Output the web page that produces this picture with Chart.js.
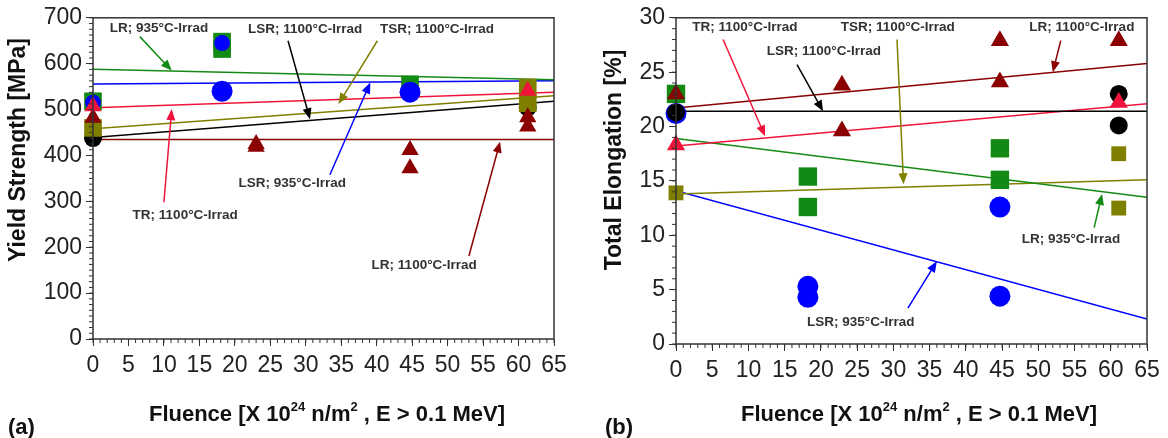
<!DOCTYPE html>
<html>
<head>
<meta charset="utf-8">
<script src="https://cdn.jsdelivr.net/npm/chart.js@4.4.0/dist/chart.umd.min.js"></script>
<style>
body { margin: 0; background: #fff; }
#wrap { position: relative; width: 1168px; height: 438px; }
#wrap canvas { position: absolute; top: 0; }
#c1 { left: 0; }
#c2 { left: 584px; }
</style>
</head>
<body>
<div id="wrap">
  <canvas id="c1" width="584" height="438"></canvas>
  <canvas id="c2" width="584" height="438"></canvas>
</div>
<script>
// ends of the fitted lines (fluence)
var lineX = [0, 65];
var xTicks = [0, 65, 5];

// (a) yield strength [MPa]
var ysTicks = [0, 700, 100];
var ysLR935X = [0, 18.2, 18.2, 44.7];
var ysLR935 = [518, 648, 632, 555];
var ysLSR935X = [0, 18.2, 18.2, 44.7];
var ysLSR935 = [515, 645, 540, 538];
var ysTR1100X = [0, 61.3];
var ysTR1100 = [507, 541];
var ysLR1100X = [0, 23, 23, 44.7, 44.7, 61.3, 61.3];
var ysLR1100 = [482, 425, 419, 412, 372, 483, 463];
var ysTSR1100X = [0, 61.3, 61.3];
var ysTSR1100 = [460, 548, 514];
var ysLSR1100X = [0, 61.3];
var ysLSR1100 = [438, 505];
// fitted lines at x = 0 and x = 65
var ysFitLR935 = [588, 565];
var ysFitLSR935 = [556, 563];
var ysFitTR1100 = [504, 538];
var ysFitTSR1100 = [458, 530];
var ysFitLSR1100 = [439, 518];
var ysFitLR1100 = [435, 435];

// (b) total elongation [%]
var elTicks = [0, 30, 5];
var elLR935X = [0, 18.2, 18.2, 44.7, 44.7];
var elLR935 = [23.0, 15.4, 12.6, 18.0, 15.1];
var elLSR935X = [0, 18.2, 18.2, 44.7, 44.7];
var elLSR935 = [21.2, 5.3, 4.3, 12.6, 4.4];
var elTR1100X = [0, 61.1];
var elTR1100 = [18.3, 22.2];
var elLR1100X = [0, 22.9, 22.9, 44.7, 44.7, 61.1];
var elLR1100 = [23.0, 23.8, 19.6, 27.9, 24.1, 27.9];
var elTSR1100X = [0, 61.1, 61.1];
var elTSR1100 = [13.9, 17.5, 12.5];
var elLSR1100X = [0, 61.1, 61.1];
var elLSR1100 = [21.3, 23.0, 20.1];
var elFitLR1100 = [21.7, 25.8];
var elFitLSR1100 = [21.4, 21.4];
var elFitTR1100 = [18.2, 22.1];
var elFitLR935 = [18.9, 13.5];
var elFitTSR1100 = [13.8, 15.1];
var elFitLSR935 = [14.1, 2.3];

var GREEN = '#138a13', BLUE = '#0000ff', RED = '#f0143c', DRED = '#8b0000', OLIVE = '#808000', BLACK = '#000000';
var FONT = "'Liberation Sans', Arial, sans-serif";

function pts(xs, ys) {
    return xs.map(function (x, i) { return { x: x, y: ys[i] }; });
}

function scatterSet(xs, ys, color, style, radius, order) {
    return {
        type: 'scatter', data: pts(xs, ys), backgroundColor: color, borderColor: color,
        borderWidth: 0, pointStyle: style, pointRadius: radius, clip: false, order: order
    };
}

function fitSet(ys, color) {
    return {
        type: 'line', data: pts(lineX, ys), borderColor: color, borderWidth: 1.5,
        pointRadius: 0, fill: false, order: 20
    };
}

// labels with arrows: text position, arrow tail, arrow head (data values)
var notesA = [
    { t: 'LR; 935\u00b0C-Irrad', tx: 9.3, ty: 678, a: [6.6, 659, 11.1, 585], c: GREEN },
    { t: 'LSR; 1100\u00b0C-Irrad', tx: 29.9, ty: 676, a: [27.5, 650, 30.6, 479], c: BLACK },
    { t: 'TSR; 1100\u00b0C-Irrad', tx: 48.5, ty: 676, a: [40.1, 650, 34.6, 512], c: OLIVE },
    { t: 'LSR; 935\u00b0C-Irrad', tx: 28.1, ty: 339, a: [33.4, 358, 39.1, 559], c: BLUE },
    { t: 'TR; 1100\u00b0C-Irrad', tx: 13.0, ty: 270, a: [10.0, 298, 11.1, 501], c: RED },
    { t: 'LR; 1100\u00b0C-Irrad', tx: 46.7, ty: 160, a: [53.0, 181, 57.4, 430], c: DRED }
];
var notesB = [
    { t: 'TR; 1100\u00b0C-Irrad', tx: 9.5, ty: 29.1, a: [6.5, 28.0, 12.3, 19.1], c: RED },
    { t: 'TSR; 1100\u00b0C-Irrad', tx: 30.6, ty: 29.1, a: [30.5, 28.0, 31.4, 14.7], c: OLIVE },
    { t: 'LR; 1100\u00b0C-Irrad', tx: 56.0, ty: 29.1, a: [53.1, 27.9, 52.0, 25.0], c: DRED },
    { t: 'LSR; 1100\u00b0C-Irrad', tx: 20.4, ty: 26.9, a: [16.7, 25.7, 20.3, 21.4], c: BLACK },
    { t: 'LR; 935\u00b0C-Irrad', tx: 54.5, ty: 9.6, a: [57.7, 10.7, 58.8, 13.8], c: GREEN },
    { t: 'LSR; 935\u00b0C-Irrad', tx: 25.5, ty: 2.0, a: [32.0, 3.3, 36.0, 7.6], c: BLUE }
];

function arrow(ctx, x0, y0, x1, y1, color) {
    var ang = Math.atan2(y1 - y0, x1 - x0), len = 11, hw = 4.5;
    ctx.strokeStyle = color; ctx.fillStyle = color; ctx.lineWidth = 1.5;
    ctx.beginPath();
    ctx.moveTo(x0, y0);
    ctx.lineTo(x1 - Math.cos(ang) * len * 0.8, y1 - Math.sin(ang) * len * 0.8);
    ctx.stroke();
    ctx.beginPath();
    ctx.moveTo(x1, y1);
    ctx.lineTo(x1 - Math.cos(ang) * len + Math.sin(ang) * hw, y1 - Math.sin(ang) * len - Math.cos(ang) * hw);
    ctx.lineTo(x1 - Math.cos(ang) * len - Math.sin(ang) * hw, y1 - Math.sin(ang) * len + Math.cos(ang) * hw);
    ctx.closePath();
    ctx.fill();
}

function fluenceTitle(ctx, cx, cy) {
    var parts = [['Fluence [X 10', 0], ['24', 1], [' n/m', 0], ['2', 1], [' , E > 0.1 MeV]', 0]];
    var big = 'bold 22px ' + FONT, small = 'bold 13px ' + FONT;
    var w = 0;
    parts.forEach(function (p) { ctx.font = p[1] ? small : big; w += ctx.measureText(p[0]).width; });
    var x = cx - w / 2;
    ctx.fillStyle = '#111'; ctx.textAlign = 'left'; ctx.textBaseline = 'alphabetic';
    parts.forEach(function (p) {
        ctx.font = p[1] ? small : big;
        ctx.fillText(p[0], x, p[1] ? cy - 10 : cy);
        x += ctx.measureText(p[0]).width;
    });
}

// frame, minor ticks, titles and labels
var deco = {
    id: 'deco',
    afterDraw: function (chart, args, o) {
        var ctx = chart.ctx, a = chart.chartArea, sx = chart.scales.x, sy = chart.scales.y;
        ctx.save();
        ctx.strokeStyle = '#333'; ctx.lineWidth = 1.5;
        ctx.strokeRect(a.left, a.top, a.right - a.left, a.bottom - a.top);
        ctx.lineWidth = 1;
        ctx.beginPath();
        for (var v = sx.min; v <= sx.max; v += 1) {
            var px = sx.getPixelForValue(v);
            ctx.moveTo(px, a.bottom); ctx.lineTo(px, a.bottom + 4);
        }
        for (var w = sy.min; w <= sy.max + 1e-9; w += o.minorY) {
            var py = sy.getPixelForValue(w);
            ctx.moveTo(a.left - 4, py); ctx.lineTo(a.left, py);
        }
        ctx.stroke();

        o.notes.forEach(function (n) {
            arrow(ctx, sx.getPixelForValue(n.a[0]), sy.getPixelForValue(n.a[1]),
                sx.getPixelForValue(n.a[2]), sy.getPixelForValue(n.a[3]), n.c);
            ctx.fillStyle = '#333'; ctx.font = 'bold 13.5px ' + FONT;
            ctx.textAlign = 'center'; ctx.textBaseline = 'middle';
            ctx.fillText(n.t, sx.getPixelForValue(n.tx), sy.getPixelForValue(n.ty));
        });

        ctx.save();
        ctx.translate(o.yTitleX, o.yTitleY);
        ctx.rotate(-Math.PI / 2);
        ctx.fillStyle = '#111'; ctx.font = 'bold 23px ' + FONT;
        ctx.textAlign = 'center'; ctx.textBaseline = 'middle';
        ctx.fillText(o.yTitle, 0, 0);
        ctx.restore();

        fluenceTitle(ctx, o.xTitleX, 421);
        ctx.fillStyle = '#111'; ctx.font = 'bold 22px ' + FONT;
        ctx.textAlign = 'left'; ctx.textBaseline = 'alphabetic';
        ctx.fillText(o.panel, o.panelX, 434);
        ctx.restore();
    }
};

function makeChart(id, sets, yr, yWidth, xHeight, padRight, opts) {
    return new Chart(document.getElementById(id), {
        data: { datasets: sets },
        options: {
            responsive: false,
            animation: false,
            layout: { padding: { top: 15, right: padRight, left: 0, bottom: 0 } },
            plugins: { legend: { display: false }, tooltip: { enabled: false }, deco: opts },
            scales: {
                x: {
                    type: 'linear', min: xTicks[0], max: xTicks[1],
                    ticks: { stepSize: xTicks[2], color: '#222', font: { family: FONT, size: 23 }, padding: 6, maxRotation: 0 },
                    grid: { drawOnChartArea: false, tickLength: 7, color: '#333' },
                    border: { display: false },
                    afterFit: function (s) { s.height = xHeight; }
                },
                y: {
                    type: 'linear', min: yr[0], max: yr[1],
                    ticks: { stepSize: yr[2], color: '#222', font: { family: FONT, size: 23 }, padding: 4 },
                    grid: { drawOnChartArea: false, tickLength: 7, color: '#333' },
                    border: { display: false },
                    afterFit: function (s) { s.width = yWidth; }
                }
            }
        },
        plugins: [deco]
    });
}

var c1Blue = scatterSet(ysLSR935X, ysLSR935, BLUE, 'circle', 8.5, 5);
c1Blue.pointRadius = [8, 8, 10.5, 10.5];

makeChart('c1', [
    scatterSet(ysLR935X, ysLR935, GREEN, 'rect', 12.5, 6),
    c1Blue,
    scatterSet(ysLSR1100X, ysLSR1100, BLACK, 'circle', 9, 10),
    scatterSet(ysTSR1100X, ysTSR1100, OLIVE, 'rect', 12.5, 9),
    scatterSet(ysLR1100X, ysLR1100, DRED, 'triangle', 10, 8),
    scatterSet(ysTR1100X, ysTR1100, RED, 'triangle', 10, 4),
    fitSet(ysFitLR935, GREEN),
    fitSet(ysFitLSR935, BLUE),
    fitSet(ysFitTR1100, RED),
    fitSet(ysFitTSR1100, OLIVE),
    fitSet(ysFitLSR1100, BLACK),
    fitSet(ysFitLR1100, DRED)
], ysTicks, 93, 99, 30, {
    notes: notesA, minorY: 12.5, yTitle: 'Yield Strength [MPa]', yTitleX: 19, yTitleY: 150,
    xTitleX: 327, panel: '(a)', panelX: 8
});

makeChart('c2', [
    scatterSet(elLR935X, elLR935, GREEN, 'rect', 13, 9),
    scatterSet(elLSR935X, elLSR935, BLUE, 'circle', 10.5, 8),
    scatterSet(elLSR1100X, elLSR1100, BLACK, 'circle', 9, 5),
    scatterSet(elTSR1100X, elTSR1100, OLIVE, 'rect', 10.5, 7),
    scatterSet(elLR1100X, elLR1100, DRED, 'triangle', 10.5, 4),
    scatterSet(elTR1100X, elTR1100, RED, 'triangle', 10.5, 3),
    fitSet(elFitLR1100, DRED),
    fitSet(elFitLSR1100, BLACK),
    fitSet(elFitTR1100, RED),
    fitSet(elFitLR935, GREEN),
    fitSet(elFitTSR1100, OLIVE),
    fitSet(elFitLSR935, BLUE)
], elTicks, 92, 94, 21, {
    notes: notesB, minorY: 1, yTitle: 'Total Elongation [%]', yTitleX: 31, yTitleY: 160,
    xTitleX: 335, panel: '(b)', panelX: 21
});
</script>
</body>
</html>
